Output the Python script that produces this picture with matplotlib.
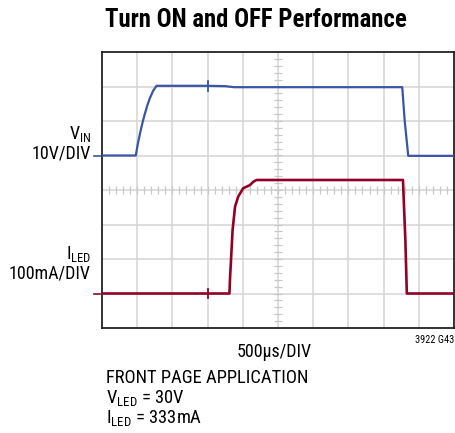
import numpy as np
import matplotlib
matplotlib.use("Agg")
import matplotlib.pyplot as plt

# Traces in scope divisions (x: 0..10, y: 0..8 from bottom)
vin_t = [-0.3, 0.96, 1.02, 1.08, 1.15, 1.22, 1.29, 1.36, 1.45, 1.55, 3.0, 3.5, 3.75, 5.0, 8.53, 8.60, 8.70, 10.0]
vin_v = [5.0, 5.0, 5.35, 5.64, 5.95, 6.22, 6.46, 6.66, 6.87, 7.02, 7.02, 7.01, 6.98, 6.98, 6.98, 6.0, 4.99, 4.99]

iled_t = [-0.3, 3.0, 3.62, 3.64, 3.66, 3.71, 3.78, 3.87, 4.01, 4.20, 4.30, 4.39, 6.0, 8.55, 8.62, 8.66, 10.0]
iled_i = [1.0, 1.0, 1.0, 1.5, 1.87, 2.84, 3.52, 3.81, 4.05, 4.14, 4.24, 4.29, 4.29, 4.29, 2.5, 1.0, 1.0]

trig_t = 3.0

blue = "#3a55a5"
red = "#930027"

plt.rcParams['font.family'] = ['Roboto Condensed', 'DejaVu Sans']
plt.rcParams['mathtext.fontset'] = 'custom'
plt.rcParams['mathtext.rm'] = 'Roboto Condensed'
plt.rcParams['mathtext.it'] = 'Roboto Condensed'
plt.rcParams['mathtext.bf'] = 'Roboto Condensed:bold'

fig = plt.figure(figsize=(4.55, 4.33), dpi=100)
ax = fig.add_axes([102/455, 1 - 328/433, 352/455, 276/433])
ax.set_xlim(0, 10)
ax.set_ylim(0, 8)

# grid
for gx in range(1, 10):
    ax.axvline(gx, color="#d4d4d4", lw=1.1, zorder=0)
for gy in range(1, 8):
    ax.axhline(gy, color="#d4d4d4", lw=1.1, zorder=0)
# minor ticks on the center lines
mt = np.arange(0.2, 10, 0.2)
ax.plot(mt, np.full_like(mt, 4.0), ls="none", marker="|", ms=6, mew=0.9, color="#c8c8c8", zorder=0)
mt2 = np.arange(0.2, 8, 0.2)
ax.plot(np.full_like(mt2, 5.0), mt2, ls="none", marker="_", ms=6, mew=0.9, color="#c8c8c8", zorder=0)

ax.set_xticks([])
ax.set_yticks([])
for s in ax.spines.values():
    s.set_color("#222222")
    s.set_linewidth(1.3)

ax.plot(vin_t, vin_v, color=blue, lw=1.6, zorder=3)
ax.plot(iled_t, iled_i, color=red, lw=1.9, zorder=3)
ax.plot([trig_t, trig_t], [6.86, 7.16], color=blue, lw=1.3, zorder=3)
ax.plot([trig_t, trig_t], [0.86, 1.14], color=red, lw=1.3, zorder=3)
# channel ground markers
ax.plot([-0.22, -0.05], [5.0, 5.0], color=blue, lw=1.2, clip_on=False)
ax.plot([-0.22, -0.05], [1.0, 1.0], color=red, lw=1.2, clip_on=False)

fig.text(256/455, 1 - 20/433, "Turn ON and OFF Performance", ha="center", va="center",
         fontsize=17.8, fontweight="bold")
fig.text(91/455, 1 - 134/433, r"$\mathrm{V_{IN}}$", ha="right", va="center", fontsize=13)
fig.text(91/455, 1 - 154/433, "10V/DIV", ha="right", va="center", fontsize=13)
fig.text(91/455, 1 - 254/433, r"$\mathrm{I_{LED}}$", ha="right", va="center", fontsize=13)
fig.text(91/455, 1 - 273/433, "100mA/DIV", ha="right", va="center", fontsize=13)
fig.text(274/455, 1 - 352/433, "500µs/DIV", ha="center", va="center", fontsize=13)
fig.text(454/455, 1 - 340/433, "3922 G43", ha="right", va="center", fontsize=7.5)
fig.text(106/455, 1 - 378/433, "FRONT PAGE APPLICATION", ha="left", va="center", fontsize=13.3)
fig.text(106/455, 1 - 398/433, r"$\mathrm{V_{LED}}$ = 30V", ha="left", va="center", fontsize=13.3)
fig.text(106/455, 1 - 418/433, r"$\mathrm{I_{LED}}$ = 333mA", ha="left", va="center", fontsize=13.3)

fig.savefig("out.png", dpi=100)
